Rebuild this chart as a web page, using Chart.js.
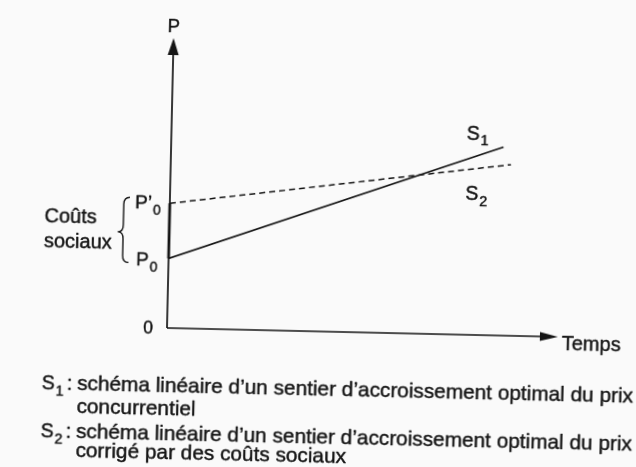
<!DOCTYPE html>
<html lang="fr">
<head>
<meta charset="utf-8">
<title>Sentiers d'accroissement optimal du prix</title>
<script src="https://cdn.jsdelivr.net/npm/chart.js@4.4.1/dist/chart.umd.min.js"></script>
<style>
  html, body { margin: 0; padding: 0; background: #fafafa; overflow: hidden; }
  /* la page du livre est scannée légèrement de travers */
  #page { position: relative; width: 636px; height: 467px; transform: rotate(1.3deg); transform-origin: 167px 328px; }
  canvas { display: block; }
</style>
</head>
<body>
<div id="page"><canvas id="graph" width="636" height="467"></canvas></div>
<script>
// temps : 0 = origine, 100 = bout de la flèche ; prix : 0 = origine, 100 = bout de la flèche
const tempsS1 = [0, 85];
const prixS1 = [24, 65];       // P0 -> fin de S1
const tempsS2 = [0, 87];
const prixS2 = [43, 59];       // P'0 -> fin de S2
const prixInitiaux = [24, 43]; // P0, P'0

const nomsSeries = [['S', '1'], ['S', '2']];
const nomsPrix = [['P', '0'], ['P\u2019', '0']];
const titreAxeY = 'P';
const titreAxeX = 'Temps';
const origine = '0';
const accolade = ['Coûts', 'sociaux'];
const legendes = [
    ['S', '1', 'schéma linéaire d\u2019un sentier d\u2019accroissement optimal du prix', 'concurrentiel'],
    ['S', '2', 'schéma linéaire d\u2019un sentier d\u2019accroissement optimal du prix', 'corrigé par des coûts sociaux']
];

const INK = '#151515';
const FAMILY = '"Liberation Sans", Arial, Helvetica, sans-serif';
const font = px => px + 'px ' + FAMILY;

// l'impression du livre est un peu plus grasse : léger contour sur le texte
function ecrire(ctx, txt, x, y) {
    ctx.fillText(txt, x, y);
    ctx.strokeText(txt, x, y);
}

// texte avec indice, aligné à gauche (ou à droite) sur x
function texteIndice(ctx, base, indice, x, y, taille, tailleIndice, align) {
    ctx.font = font(taille);
    const wb = ctx.measureText(base).width;
    ctx.font = font(tailleIndice);
    const wi = ctx.measureText(indice).width;
    const x0 = align === 'right' ? x - wb - wi - 1 : x;
    ctx.textAlign = 'left';
    ctx.font = font(taille);
    ecrire(ctx, base, x0, y);
    ctx.font = font(tailleIndice);
    ecrire(ctx, indice, x0 + wb + 1, y + taille * 0.3);
}

const schemaPlugin = {
    id: 'schema',
    afterDatasetsDraw(chart) {
        const ctx = chart.ctx;
        const xs = chart.scales.x, ys = chart.scales.y;
        const {left, right, top, bottom} = chart.chartArea;
        ctx.save();
        ctx.fillStyle = INK;
        ctx.strokeStyle = INK;
        ctx.textBaseline = 'alphabetic';
        ctx.lineJoin = 'round';

        // axes
        ctx.lineWidth = 1.7;
        ctx.beginPath();
        ctx.moveTo(left, bottom);
        ctx.lineTo(left, top + 12);
        ctx.moveTo(left, bottom);
        ctx.lineTo(right - 12, bottom);
        ctx.stroke();
        // segment épais entre P0 et P'0
        ctx.lineWidth = 2.8;
        ctx.beginPath();
        ctx.moveTo(left, ys.getPixelForValue(prixInitiaux[0]));
        ctx.lineTo(left, ys.getPixelForValue(prixInitiaux[1]));
        ctx.stroke();
        // flèches
        ctx.beginPath();
        ctx.moveTo(left, top);
        ctx.lineTo(left - 5.5, top + 17);
        ctx.lineTo(left + 5.5, top + 17);
        ctx.closePath();
        ctx.fill();
        ctx.beginPath();
        ctx.moveTo(right, bottom);
        ctx.lineTo(right - 18, bottom - 4.5);
        ctx.lineTo(right - 18, bottom + 4.5);
        ctx.closePath();
        ctx.fill();

        ctx.lineWidth = 0.45;

        // titres des axes et origine
        ctx.font = font(18.5);
        ctx.textAlign = 'center';
        ecrire(ctx, titreAxeY, left, top - 6);
        ctx.font = font(20);
        ctx.textAlign = 'left';
        ecrire(ctx, titreAxeX, right + 4, bottom + 13);
        ctx.font = font(17.5);
        ctx.textAlign = 'right';
        ecrire(ctx, origine, left - 14, bottom + 6);

        // P0 et P'0
        const y0 = ys.getPixelForValue(prixInitiaux[0]);
        const y1 = ys.getPixelForValue(prixInitiaux[1]);
        texteIndice(ctx, nomsPrix[0][0], nomsPrix[0][1], left - 11, y0 + 7.5, 19, 14, 'right');
        texteIndice(ctx, nomsPrix[1][0], nomsPrix[1][1], left - 9, y1 + 5.5, 19, 14, 'right');

        // accolade des coûts sociaux
        const xr = left - 40, xm = left - 46, xl = left - 51;
        const ya = y1 - 5, yb = y0 + 5, ym = (y0 + y1) / 2 + 2, r = 7;
        ctx.lineWidth = 1.4;
        ctx.beginPath();
        ctx.moveTo(xr, ya);
        ctx.quadraticCurveTo(xm, ya, xm, ya + r);
        ctx.lineTo(xm, ym - r);
        ctx.quadraticCurveTo(xm, ym, xl, ym);
        ctx.quadraticCurveTo(xm, ym, xm, ym + r);
        ctx.lineTo(xm, yb - r);
        ctx.quadraticCurveTo(xm, yb, xr, yb);
        ctx.stroke();
        ctx.lineWidth = 0.45;
        ctx.font = font(20);
        ctx.textAlign = 'left';
        ecrire(ctx, accolade[0], left - 125, ym - 7.5);
        ecrire(ctx, accolade[1], left - 125, ym + 17);

        // noms des sentiers
        const fin1x = xs.getPixelForValue(tempsS1[tempsS1.length - 1]);
        const fin1y = ys.getPixelForValue(prixS1[prixS1.length - 1]);
        const fin2x = xs.getPixelForValue(tempsS2[tempsS2.length - 1]);
        const fin2y = ys.getPixelForValue(prixS2[prixS2.length - 1]);
        texteIndice(ctx, nomsSeries[0][0], nomsSeries[0][1], fin1x - 37, fin1y - 7, 19.5, 14.5);
        texteIndice(ctx, nomsSeries[1][0], nomsSeries[1][1], fin2x - 45, fin2y + 36, 19.5, 14.5);

        // légende sous le schéma
        const lignes = [64, 87, 112, 131];
        legendes.forEach((l, i) => {
            const yl = bottom + lignes[i * 2];
            texteIndice(ctx, l[0], l[1], left - 124, yl, 19.5, 14.5);
            ctx.font = font(20.8);
            ctx.textAlign = 'left';
            ecrire(ctx, ':', left - 99, yl);
            ecrire(ctx, l[2], left - 88.6, yl);
            ecrire(ctx, l[3], left - 88.6, bottom + lignes[i * 2 + 1]);
        });
        ctx.restore();
    }
};

const ctx = document.getElementById('graph').getContext('2d');
new Chart(ctx, {
    type: 'line',
    data: {
        datasets: [
            {
                label: 'S1',
                data: tempsS1.map((t, i) => ({x: t, y: prixS1[i]})),
                borderColor: INK,
                borderWidth: 1.8,
                pointRadius: 0,
                tension: 0
            },
            {
                label: 'S2',
                data: tempsS2.map((t, i) => ({x: t, y: prixS2[i]})),
                borderColor: INK,
                borderWidth: 1.5,
                borderDash: [6, 4],
                pointRadius: 0,
                tension: 0
            }
        ]
    },
    options: {
        responsive: false,
        animation: false,
        events: [],
        layout: {padding: {left: 167, top: 38, right: 78, bottom: 139}},
        scales: {
            x: {type: 'linear', min: 0, max: 100, display: false},
            y: {type: 'linear', min: 0, max: 100, display: false}
        },
        plugins: {
            legend: {display: false},
            tooltip: {enabled: false}
        }
    },
    plugins: [schemaPlugin]
});
</script>
</body>
</html>
